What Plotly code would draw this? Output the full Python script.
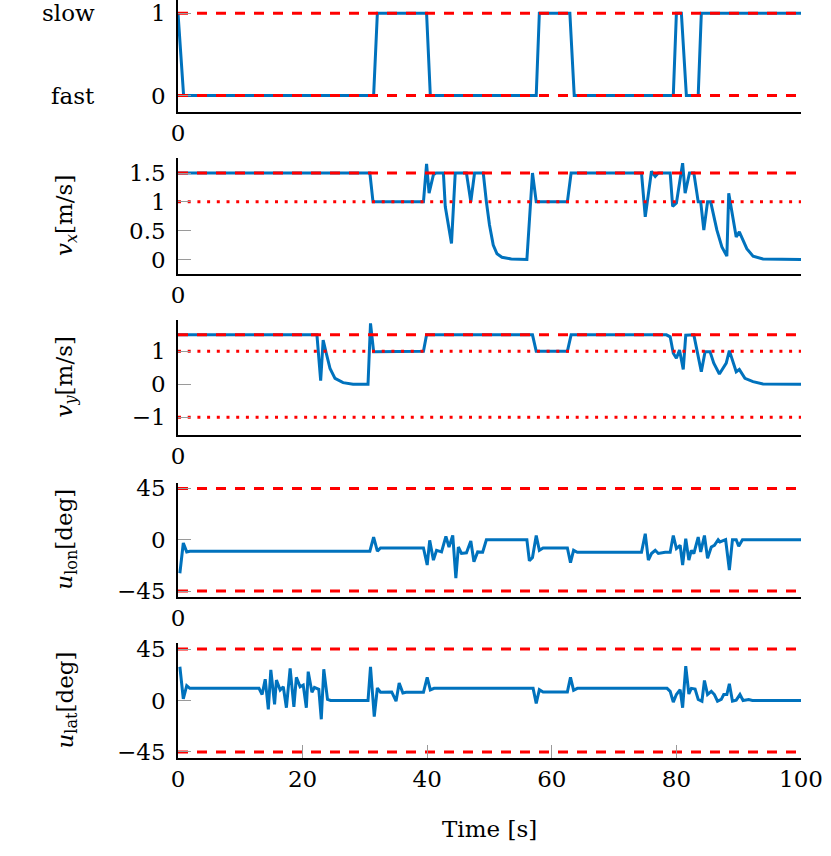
import plotly.graph_objects as go

# ---------------- data ----------------
mode_t = [0, 0.9, 31.4, 32.0, 39.9, 40.5, 57.5, 58.0, 62.9, 63.6, 79.5, 80.0, 80.8, 81.6, 83.5, 84.0, 100]
mode_v = [1, 0, 0, 1, 1, 0, 0, 1, 1, 0, 0, 1, 1, 0, 0, 1, 1]

vx_t = [0, 30.8, 31.3, 39.4, 39.9, 40.3, 41.0, 41.4, 42.6, 42.9, 43.9, 44.5, 46.3, 47.0, 47.6, 49.0,
        49.5, 50.0, 50.6, 51.2, 52.0, 53.5, 56.0, 56.9, 57.5, 62.5, 63.1, 74.4, 75.0, 76.0, 76.6, 77.1,
        79.0, 79.4, 80.0, 81.0, 81.4, 82.1, 82.8, 83.5, 83.9, 84.4, 85.0, 85.5, 86.5, 87.3, 88.1, 88.4,
        89.6, 90.1, 91.3, 92.3, 93.9, 100]
vx_v = [1.5, 1.5, 1.0, 1.0, 1.66, 1.15, 1.47, 1.5, 1.5, 0.92, 0.28, 1.5, 1.5, 1.0, 1.5, 1.5,
        1.0, 0.6, 0.25, 0.1, 0.04, 0.01, 0.0, 1.5, 1.0, 1.0, 1.5, 1.5, 0.74, 1.53, 1.44, 1.5,
        1.5, 0.92, 0.98, 1.67, 1.15, 1.5, 1.5, 1.0, 1.0, 0.51, 1.0, 1.0, 0.51, 0.22, 0.06, 1.15,
        0.39, 0.48, 0.19, 0.06, 0.01, 0.0]

vy_t = [0, 22.3, 22.9, 23.3, 23.8, 24.4, 25.2, 26.5, 28.1, 30.5, 30.9, 31.4, 39.4, 39.9, 56.9, 57.5,
        62.5, 63.1, 78.4, 79.0, 79.5, 80.0, 80.5, 81.1, 81.5, 82.8, 84.0, 84.6, 85.4, 86.0, 86.9, 88.0,
        88.5, 89.6, 90.1, 91.0, 92.3, 93.9, 100]
vy_v = [1.5, 1.5, 0.11, 1.34, 0.94, 0.48, 0.18, 0.05, 0.0, 0.0, 1.85, 0.99, 1.0, 1.5, 1.5, 1.0,
        1.0, 1.5, 1.5, 1.44, 0.94, 0.79, 1.04, 0.45, 1.49, 1.5, 0.38, 0.99, 0.99, 0.64, 0.31, 0.64,
        1.02, 0.38, 0.45, 0.18, 0.08, 0.01, 0.0]

ulon_t = [0.3, 0.85, 1.4, 1.9, 30.8, 31.4, 32.0, 32.5, 39.4, 40.0, 40.4, 41.0, 41.5, 42.3, 43.0, 43.5,
          44.1, 44.6, 45.0, 45.5, 46.3, 47.0, 47.5, 48.1, 48.9, 49.5, 56.0, 56.4, 56.9, 57.5, 58.0, 58.6,
          62.5, 63.0, 63.5, 64.1, 74.4, 75.0, 75.5, 76.0, 76.6, 77.1, 78.2, 79.0, 79.5, 80.0, 80.6, 81.0,
          81.5, 82.0, 82.4, 82.8, 83.5, 83.9, 84.5, 85.0, 85.6, 86.1, 86.7, 87.0, 87.9, 88.5, 89.0, 89.6,
          90.0, 90.6, 100]
ulon_v = [-29.4, -2.9, -10.7, -10.1, -10.1, 2.3, -10.1, -7.2, -7.2, -22.2, -0.6, -17.9, -9.3, -10.7, 2.9, -6.4,
          3.7, -33.8, -6.4, -12.1, -11.5, -1.2, -19.4, -10.7, -11.0, 0, 0, -18.5, -15.6, 3.7, -9.3, -7.2,
          -7.2, -20.2, -9.3, -11.0, -11.0, 5.2, -17.9, -12.1, -9.3, -12.1, -11.0, -11.0, 3.7, -7.8, -4.9, -22.2,
          0.9, -17.9, -9.3, -12.1, 2.3, -10.7, 3.7, -16.4, -6.4, -4.9, 0, -2.0, 0, -26.6, 0, 0,
          -5.8, 0, 0]

ulat_t = [0.3, 0.85, 1.4, 1.9, 13.0, 13.5, 14.0, 14.5, 14.9, 15.5, 15.8, 16.4, 16.9, 17.4, 18.0, 18.6,
          19.0, 19.6, 20.1, 20.6, 20.9, 21.5, 21.9, 22.6, 23.0, 23.4, 24.0, 24.5, 30.5, 30.9, 31.5, 32.0,
          32.5, 34.3, 35.0, 35.5, 36.1, 36.6, 39.4, 40.0, 40.5, 41.1, 57.0, 57.5, 58.0, 58.6, 62.5, 63.0,
          63.5, 64.1, 77.7, 78.5, 79.0, 79.5, 80.0, 80.6, 81.0, 81.5, 82.0, 82.4, 83.0, 83.5, 84.1, 84.5,
          85.0, 85.6, 86.1, 86.6, 87.2, 87.6, 88.1, 88.5, 89.0, 89.6, 90.2, 90.7, 91.6, 92.2, 100]
ulat_v = [29.5, 1.5, 12.9, 10.6, 10.6, 5.2, 18.6, -7.7, 26.7, -3.4, 17.8, 9.2, 12.0, -6.3, 28.1, -5.5,
          20.3, 12.0, 13.5, -6.3, 25.2, 7.2, 11.5, 9.8, -16.4, 27.3, 0.9, 0, 0, 29.5, -14.0, 10.9,
          7.2, 7.5, -0.6, 15.2, 6.6, 7.2, 7.2, 20.3, 9.2, 10.6, 10.6, -2.6, 9.5, 7.5, 7.5, 20.3,
          8.9, 10.6, 10.6, 10.6, 8.0, -1.4, 5.2, 9.5, -6.3, 30.1, 5.7, 10.6, 10.0, 0.9, -0.6, 17.5,
          5.2, 8.0, 5.2, -0.6, 0.9, 5.2, 5.2, 14.6, -0.6, 0.3, 5.2, 0, 0.9, 0, 0]

# reference / limit lines
mode_dash = [0, 1]
vx_dash = [1.5]
vx_dot = [1.0]
vy_dash = [1.5]
vy_dot = [1.0, -1.0]
ulon_dash = [45, -45]
ulat_dash = [45, -45]

x_ticks = [0, 20, 40, 60, 80, 100]
y_ticks = [[0, 1], [0, 0.5, 1, 1.5], [-1, 0, 1], [-45, 0, 45], [-45, 0, 45]]
y_ticktext = [["0", "1"], ["0", "0.5", "1", "1.5"], ["−1", "0", "1"], ["−45", "0", "45"], ["−45", "0", "45"]]
y_ranges = [[-0.2, 1.16], [-0.25, 1.76], [-1.54, 1.95], [-50, 50], [-50, 50]]
y_titles = ["", "<i>v</i><sub><i>x</i></sub>[m/s]", "<i>v</i><sub><i>y</i></sub>[m/s]",
            "<i>u</i><sub>lon</sub>[deg]", "<i>u</i><sub>lat</sub>[deg]"]

# ---------------- figure ----------------
W, H = 831, 856
ML, MR, MT, MB = 178, 30, 0, 98
plot_h = H - MT - MB
plot_w = W - ML - MR

def py(pix):
    return (H - MB - pix) / plot_h

domains = [[py(112), py(0)], [py(274), py(158)], [py(435), py(320)], [py(596.7), py(482.7)], [py(757.7), py(643.3)]]
domains[4][0] = max(domains[4][0], 0)
domains[0][1] = min(domains[0][1], 1)

BLUE = "#0072BD"
RED = "#FF0000"
FONT = "DejaVu Serif"
FS = 23

fig = go.Figure()

series = [(mode_t, mode_v), (vx_t, vx_v), (vy_t, vy_v), (ulon_t, ulon_v), (ulat_t, ulat_v)]
dash_lines = [mode_dash, vx_dash, vy_dash, ulon_dash, ulat_dash]
dot_lines = [[], vx_dot, vy_dot, [], []]

for i, (t, v) in enumerate(series):
    xa = "x" if i == 0 else f"x{i+1}"
    ya = "y" if i == 0 else f"y{i+1}"
    fig.add_trace(go.Scatter(x=t, y=v, mode="lines", line=dict(color=BLUE, width=3),
                             xaxis=xa, yaxis=ya, showlegend=False, hoverinfo="skip"))
    for d in dash_lines[i]:
        fig.add_trace(go.Scatter(x=[0, 100], y=[d, d], mode="lines",
                                 line=dict(color=RED, width=3, dash="10px,9px"),
                                 xaxis=xa, yaxis=ya, showlegend=False, hoverinfo="skip"))
    for d in dot_lines[i]:
        fig.add_trace(go.Scatter(x=[0, 100], y=[d, d], mode="lines",
                                 line=dict(color=RED, width=3, dash="3px,6.7px"),
                                 xaxis=xa, yaxis=ya, showlegend=False, hoverinfo="skip"))

layout = dict(width=W, height=H, margin=dict(l=ML, r=MR, t=MT, b=MB, autoexpand=False),
              paper_bgcolor="white", plot_bgcolor="white",
              font=dict(family=FONT, size=FS, color="black"), showlegend=False)

for i in range(5):
    xk = "xaxis" if i == 0 else f"xaxis{i+1}"
    yk = "yaxis" if i == 0 else f"yaxis{i+1}"
    ya = "y" if i == 0 else f"y{i+1}"
    xa = "x" if i == 0 else f"x{i+1}"
    last = (i == 4)
    layout[xk] = dict(domain=[0, 1], anchor=ya, range=[0, 100], automargin=False,
                      tickvals=x_ticks if last else [0],
                      ticktext=[str(v) for v in x_ticks] if last else ["0"],
                      ticks="inside", ticklen=13, tickcolor="#9a9a9a", tickwidth=1,
                      showline=True, linecolor="black", linewidth=1.5, mirror=False,
                      showgrid=False, zeroline=False, ticklabelstandoff=0,
                      ticklabeloverflow="allow",
                      tickfont=dict(family=FONT, size=FS, color="black"))
    layout[yk] = dict(domain=domains[i], anchor=xa, range=y_ranges[i], automargin=False,
                      tickvals=y_ticks[i], ticktext=y_ticktext[i],
                      ticks="inside", ticklen=13, tickcolor="#9a9a9a", tickwidth=1,
                      showline=True, linecolor="black", linewidth=1.5, mirror=False,
                      showgrid=False, zeroline=False, ticklabelstandoff=6,
                      ticklabeloverflow="allow",
                      tickfont=dict(family=FONT, size=FS, color="black"))

fig.update_layout(**layout)

ann = []
title_x = (66 - ML) / plot_w
for i in range(1, 5):
    ann.append(dict(text=y_titles[i], xref="paper", yref="paper", x=title_x,
                    y=(domains[i][0] + domains[i][1]) / 2, xanchor="center", yanchor="middle",
                    textangle=-90, showarrow=False, font=dict(family=FONT, size=FS, color="black")))
mode_labels = ["fast", "slow"]
for val, lab in zip(mode_dash, mode_labels):
    ann.append(dict(text=lab, xref="paper", yref="y", x=(97 - ML) / plot_w, y=val,
                    xanchor="right", yanchor="middle", showarrow=False,
                    font=dict(family=FONT, size=FS, color="black")))
ann.append(dict(text="Time [s]", xref="paper", yref="paper", x=0.5, y=(H - MB - 829) / plot_h,
                xanchor="center", yanchor="middle", showarrow=False,
                font=dict(family=FONT, size=FS, color="black")))
fig.update_layout(annotations=ann)

fig.write_html("out.html", config={"displayModeBar": False},
               post_script="document.body.style.margin='0px';")
